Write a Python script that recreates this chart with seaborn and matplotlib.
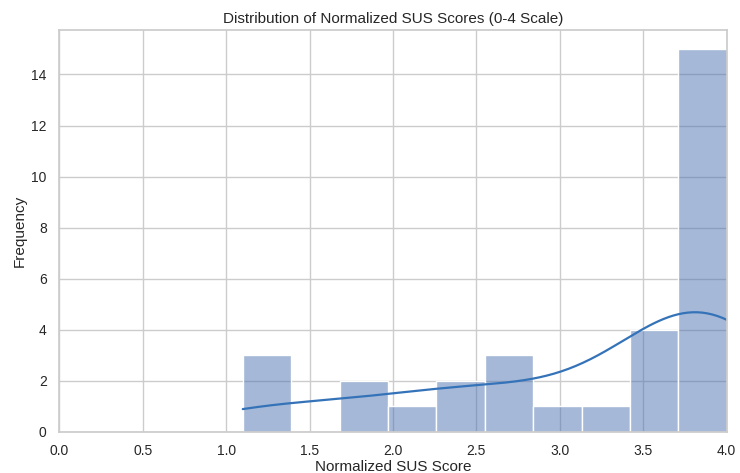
import matplotlib
matplotlib.use("Agg")
import matplotlib.pyplot as plt
import seaborn as sns
import pandas as pd

# Normalized SUS scores (SUS / 25), one per respondent
scores = [1.1, 1.2, 1.3,
          1.8, 1.9,
          2.1,
          2.3, 2.5,
          2.6, 2.7, 2.8,
          3.0,
          3.3,
          3.5, 3.6, 3.6, 3.7,
          3.8, 3.8, 3.8, 3.8, 3.9, 3.9, 3.9, 3.9, 3.9,
          4.0, 4.0, 4.0, 4.0, 4.0, 4.0]
n_bins = 10
x_ticks = [0.0, 0.5, 1.0, 1.5, 2.0, 2.5, 3.0, 3.5, 4.0]

df = pd.DataFrame({"Normalized SUS Score": scores})

sns.set_theme(style="whitegrid")
plt.rcParams['font.family'] = ['Liberation Sans', 'DejaVu Sans']

fig, ax = plt.subplots(figsize=(7.4, 4.73), dpi=100)
sns.histplot(data=df, x="Normalized SUS Score", bins=n_bins, kde=True, ax=ax,
             line_kws={"linewidth": 1.6})
# kde line a bit brighter than the bars
for line in ax.lines:
    line.set_color("#3573b9")
ax.set_xlim(0, 4)
ax.set_xticks(x_ticks)
ax.set_title('Distribution of Normalized SUS Scores (0-4 Scale)', fontsize=11, pad=5)
ax.set_xlabel('Normalized SUS Score', fontsize=11, labelpad=1)
ax.set_ylabel('Frequency', fontsize=11, labelpad=3)
ax.tick_params(labelsize=10, pad=3)
fig.subplots_adjust(left=0.08, right=0.982, top=0.937, bottom=0.087)
fig.savefig("out.png")
